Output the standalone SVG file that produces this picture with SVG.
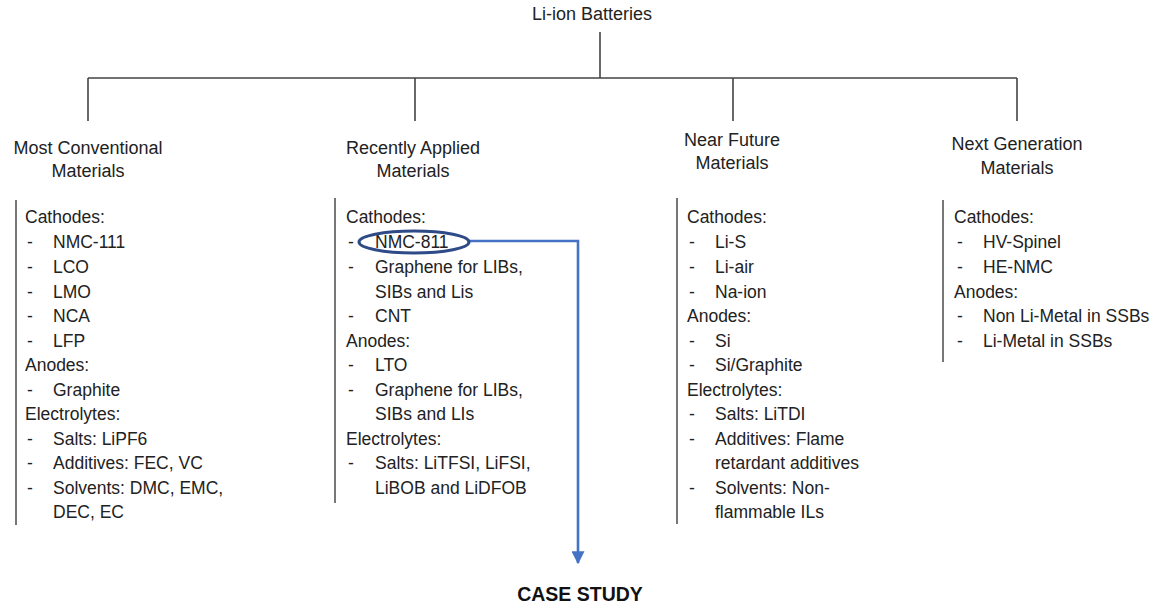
<svg xmlns="http://www.w3.org/2000/svg" width="1157" height="606" viewBox="0 0 1157 606">
<style>
text{font-family:"Liberation Sans",Arial,sans-serif;fill:#222}
.h{font-size:18px;text-anchor:middle}
.b{font-size:17.5px}
.ln{stroke:#444;stroke-width:1.6;fill:none}
.bar{stroke:#555;stroke-width:1.6;fill:none}
</style>
<defs>
<marker id="ah" viewBox="0 0 10 10" refX="9" refY="5" markerWidth="5" markerHeight="5" markerUnits="strokeWidth" orient="auto">
<path d="M0,0 L10,5 L0,10 z" fill="#4472c4"/>
</marker>
</defs>
<rect width="1157" height="606" fill="#fff"/>
<g id="connectors">
<path class="ln" d="M600,32 V78 M88,78 H1017 M88,78 V121 M415,78 V121 M733,78 V121 M1017,78 V121"/>
<path d="M469,241 H578 V563" fill="none" stroke="#4472c4" stroke-width="2.6" marker-end="url(#ah)"/>
</g>
<g id="root"><text class="h" x="592" y="20">Li-ion Batteries</text></g>
<g id="col1">
<text class="h" x="88" y="154">Most Conventional</text>
<text class="h" x="88" y="177">Materials</text>
<line class="bar" x1="16" y1="200" x2="16" y2="525"/>
<g class="b">
<text x="25" y="223">Cathodes:</text>
<text x="27" y="248">-</text><text x="53" y="248">NMC-111</text>
<text x="27" y="273">-</text><text x="53" y="273">LCO</text>
<text x="27" y="298">-</text><text x="53" y="298">LMO</text>
<text x="27" y="322">-</text><text x="53" y="322">NCA</text>
<text x="27" y="347">-</text><text x="53" y="347">LFP</text>
<text x="25" y="371">Anodes:</text>
<text x="27" y="396">-</text><text x="53" y="396">Graphite</text>
<text x="25" y="420">Electrolytes:</text>
<text x="27" y="445">-</text><text x="53" y="445">Salts: LiPF6</text>
<text x="27" y="469">-</text><text x="53" y="469">Additives: FEC, VC</text>
<text x="27" y="494">-</text><text x="53" y="494">Solvents: DMC, EMC,</text>
<text x="53" y="518">DEC, EC</text>
</g>
</g>
<g id="col2">
<text class="h" x="413" y="154">Recently Applied</text>
<text class="h" x="413" y="177">Materials</text>
<line class="bar" x1="335" y1="198" x2="335" y2="503"/>
<g class="b">
<text x="346" y="223">Cathodes:</text>
<text x="348" y="248">-</text><text x="375" y="248">NMC-811</text>
<text x="348" y="273">-</text><text x="375" y="273">Graphene for LIBs,</text>
<text x="375" y="298">SIBs and Lis</text>
<text x="348" y="322">-</text><text x="375" y="322">CNT</text>
<text x="346" y="347">Anodes:</text>
<text x="348" y="371">-</text><text x="375" y="371">LTO</text>
<text x="348" y="396">-</text><text x="375" y="396">Graphene for LIBs,</text>
<text x="375" y="420">SIBs and LIs</text>
<text x="346" y="445">Electrolytes:</text>
<text x="348" y="469">-</text><text x="375" y="469">Salts: LiTFSI, LiFSI,</text>
<text x="375" y="494">LiBOB and LiDFOB</text>
</g>
<ellipse cx="414" cy="242" rx="55" ry="11" fill="none" stroke="#2e4a87" stroke-width="3"/>
</g>
<g id="col3">
<text class="h" x="732" y="146">Near Future</text>
<text class="h" x="732" y="169">Materials</text>
<line class="bar" x1="677" y1="198" x2="677" y2="524"/>
<g class="b">
<text x="687" y="223">Cathodes:</text>
<text x="689" y="248">-</text><text x="715" y="248">Li-S</text>
<text x="689" y="273">-</text><text x="715" y="273">Li-air</text>
<text x="689" y="298">-</text><text x="715" y="298">Na-ion</text>
<text x="687" y="322">Anodes:</text>
<text x="689" y="347">-</text><text x="715" y="347">Si</text>
<text x="689" y="371">-</text><text x="715" y="371">Si/Graphite</text>
<text x="687" y="396">Electrolytes:</text>
<text x="689" y="420">-</text><text x="715" y="420">Salts: LiTDI</text>
<text x="689" y="445">-</text><text x="715" y="445">Additives: Flame</text>
<text x="715" y="469">retardant additives</text>
<text x="689" y="494">-</text><text x="715" y="494">Solvents: Non-</text>
<text x="715" y="518">flammable ILs</text>
</g>
</g>
<g id="col4">
<text class="h" x="1017" y="150">Next Generation</text>
<text class="h" x="1017" y="174">Materials</text>
<line class="bar" x1="943" y1="200" x2="943" y2="362"/>
<g class="b">
<text x="954" y="223">Cathodes:</text>
<text x="957" y="248">-</text><text x="983" y="248">HV-Spinel</text>
<text x="957" y="273">-</text><text x="983" y="273">HE-NMC</text>
<text x="954" y="298">Anodes:</text>
<text x="957" y="322">-</text><text x="983" y="322">Non Li-Metal in SSBs</text>
<text x="957" y="347">-</text><text x="983" y="347">Li-Metal in SSBs</text>
</g>
</g>
<g id="case"><text x="580" y="601" text-anchor="middle" font-size="19.5" font-weight="bold" style="fill:#111">CASE STUDY</text></g>
</svg>
